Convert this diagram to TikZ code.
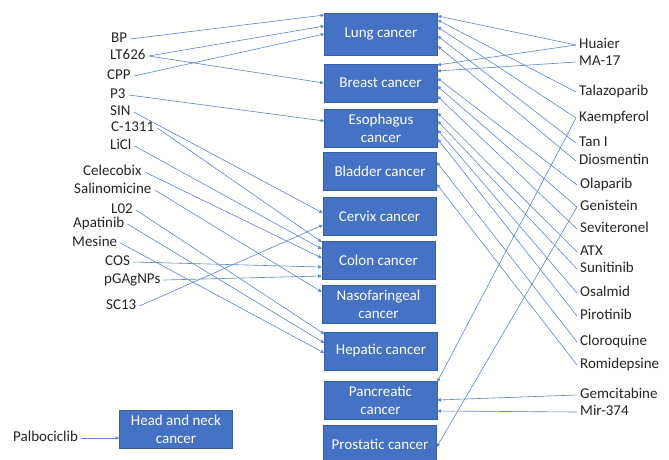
\documentclass[tikz,border=0pt]{standalone}
\usepackage{fontspec}
\setmainfont{Carlito}
\usetikzlibrary{arrows.meta}
\definecolor{boxblue}{HTML}{4472C4}
\definecolor{linkblue}{HTML}{5B87D4}
\definecolor{labelgray}{HTML}{262626}
\begin{document}
\begin{tikzpicture}[x=1pt,y=-1pt,
  cbox/.style={fill=boxblue, draw=boxblue!85!black, line width=0.4pt, text=white,
    font=\fontsize{15}{18}\selectfont, align=center, minimum width=113pt,
    minimum height=38pt, inner sep=1pt},
  lab/.style={text=labelgray, font=\fontsize{15}{18}\selectfont, inner xsep=3pt,
    inner ysep=0pt, text height=10pt, text depth=3pt, anchor=west},
  link/.style={draw=linkblue, line width=0.6pt, -{Triangle[width=3.2pt,length=3.6pt]}}]
\useasboundingbox (0,0) rectangle (669,459);
\fill[white] (0,0) rectangle (669,459);

% cancer boxes
\node[cbox, minimum height=42pt] (lung) at (381,34) {Lung cancer};
\node[cbox] (breast) at (380.5,83) {Breast cancer};
\node[cbox] (esoph) at (381,128) {Esophagus\\cancer};
\node[cbox] (bladder) at (380,171) {Bladder cancer};
\node[cbox] (cervix) at (379.5,216) {Cervix cancer};
\node[cbox] (colon) at (378.5,260) {Colon cancer};
\node[cbox] (naso) at (378.5,304) {Nasofaringeal\\cancer};
\node[cbox] (hepatic) at (381,351) {Hepatic cancer};
\node[cbox] (pancreatic) at (380.5,400) {Pancreatic\\cancer};
\node[cbox] (prostatic) at (380,444) {Prostatic cancer};
\node[cbox] (headneck) at (176,429) {Head and neck\\cancer};

% left labels
\node[lab] (bp) at (108,39) {BP};
\node[lab] (lt626) at (107,56) {LT626};
\node[lab] (cpp) at (104,76) {CPP};
\node[lab] (p3) at (107,95) {P3};
\node[lab] (sin) at (107,112) {SIN};
\node[lab] (c1311) at (108,128) {C-1311};
\node[lab] (licl) at (107,146) {LiCl};
\node[lab] (celecobix) at (80,172) {Celecobix};
\node[lab] (salino) at (71,190) {Salinomicine};
\node[lab] (l02) at (108,210) {L02};
\node[lab] (apatinib) at (70,224) {Apatinib};
\node[lab] (mesine) at (69,243) {Mesine};
\node[lab] (cos) at (102,262) {COS};
\node[lab] (pgagnps) at (101,280) {pGAgNPs};
\node[lab] (sc13) at (103,306) {SC13};
\node[lab] (palbo) at (10,438) {Palbociclib};

% right labels
\node[lab] (huaier) at (576,45) {Huaier};
\node[lab] (ma17) at (576,62) {MA-17};
\node[lab] (talazo) at (576,92) {Talazoparib};
\node[lab] (kaemp) at (576,118) {Kaempferol};
\node[lab] (tani) at (576,143) {Tan I};
\node[lab] (diosm) at (576,161) {Diosmentin};
\node[lab] (olap) at (577,185) {Olaparib};
\node[lab] (genist) at (577,207) {Genistein};
\node[lab] (sevit) at (577,229) {Seviteronel};
\node[lab] (atx) at (577,252) {ATX};
\node[lab] (sunit) at (577,269) {Sunitinib};
\node[lab] (osalm) at (577,293) {Osalmid};
\node[lab] (pirot) at (577,316) {Pirotinib};
\node[lab] (cloro) at (577,342) {Cloroquine};
\node[lab] (romid) at (577,365) {Romidepsine};
\node[lab] (gemci) at (577,395) {Gemcitabine};
\node[lab] (mir) at (577,412) {Mir-374};

% left connectors
\draw[link] (bp.east) -- (lung.west |- 0,15);
\draw[link] (lt626.east) -- (lung.west |- 0,26);
\draw[link] (cpp.east) -- (lung.west |- 0,34);
\draw[link] (lt626.east) -- (breast.west |- 0,83);
\draw[link] (p3.east) -- (esoph.west |- 0,121);
\draw[link] (sin.east) -- (cervix.west |- 0,213);
\draw[link] (sc13.east) -- (cervix.west |- 0,225);
\draw[link] (c1311.east) -- (colon.west |- 0,242);
\draw[link] (licl.east) -- (colon.west |- 0,249);
\draw[link] (celecobix.east) -- (colon.west |- 0,258);
\draw[link] (cos.east) -- (colon.west |- 0,267);
\draw[link] (pgagnps.east) -- (colon.west |- 0,276);
\draw[link] (salino.east) -- (naso.west |- 0,292);
\draw[link] (l02.east) -- (hepatic.west |- 0,334);
\draw[link] (apatinib.east) -- (hepatic.west |- 0,343);
\draw[link] (mesine.east) -- (hepatic.west |- 0,353);
\draw[link] (palbo.east) -- (headneck.west |- 0,438);

% right connectors
\draw[link] (huaier.west) -- (lung.east |- 0,16);
\draw[link] (huaier.west) -- (breast.east |- 0,65);
\draw[link] (ma17.west) -- (breast.east |- 0,71);
\draw[link] (talazo.west) -- (lung.east |- 0,20);
\draw[link] (kaemp.west) -- (lung.east |- 0,27);
\draw[link] (kaemp.west) -- (pancreatic.east |- 0,382);
\draw[link] (tani.west) -- (lung.east |- 0,36);
\draw[link] (diosm.west) -- (lung.east |- 0,46);
\draw[link] (olap.west) -- (breast.east |- 0,78);
\draw[link] (genist.west) -- (breast.east |- 0,86);
\draw[link] (genist.west) -- (prostatic.east |- 0,447);
\draw[link] (sevit.west) -- (breast.east |- 0,96);
\draw[link] (atx.west) -- (esoph.east |- 0,113);
\draw[link] (sunit.west) -- (esoph.east |- 0,121);
\draw[link] (osalm.west) -- (esoph.east |- 0,130);
\draw[link] (pirot.west) -- (esoph.east |- 0,139);
\draw[link] (cloro.west) -- (bladder.east |- 0,162);
\draw[link] (romid.west) -- (bladder.east |- 0,184);
\draw[link] (gemci.west) -- (pancreatic.east |- 0,400);
\draw[link] (mir.west) -- (pancreatic.east |- 0,411);
\end{tikzpicture}
\end{document}
